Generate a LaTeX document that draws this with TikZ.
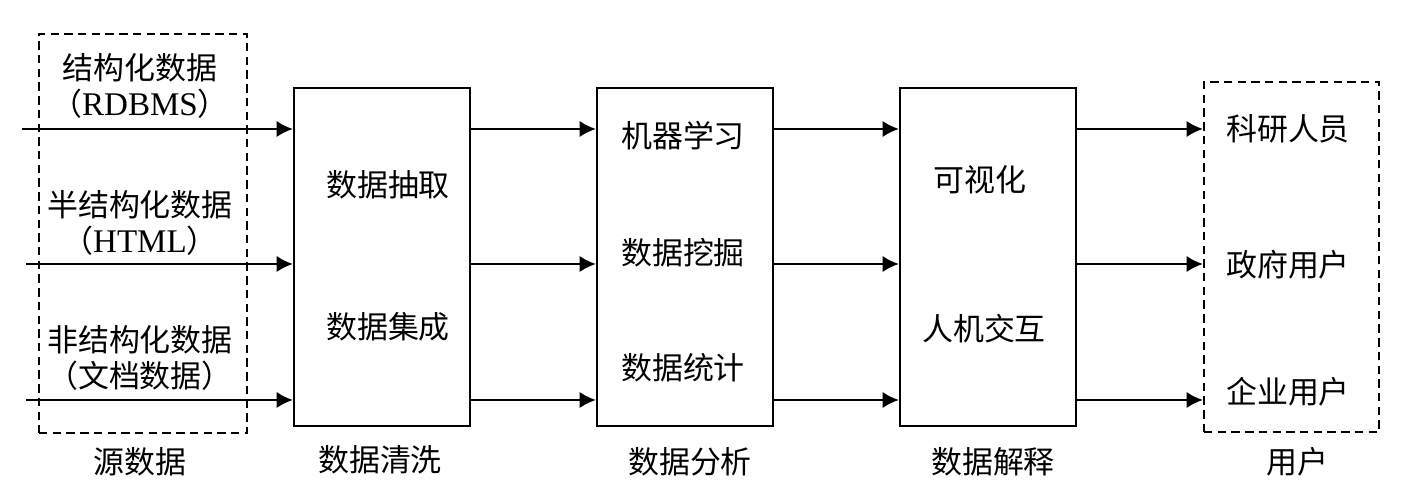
\documentclass[tikz,border=0pt]{standalone}
\usepackage{fontspec}
\setmainfont{Liberation Serif}
\newfontfamily\cjk{Noto Sans CJK SC}
\usetikzlibrary{arrows.meta}

\begin{document}
\begin{tikzpicture}[x=0.01cm,y=-0.01cm,
  stage/.style={draw,line width=0.6pt,minimum width=1.76cm,minimum height=3.38cm,inner sep=0pt},
  group/.style={draw,line width=0.6pt,dash pattern=on 2.4pt off 1.5pt,inner sep=0pt},
  lbl/.style={inner sep=0pt,font=\cjk\fontsize{8.8}{10.5}\selectfont},
  flow/.style={line width=0.6pt,-{Latex[length=4.6pt,width=4.6pt]}}]

  \useasboundingbox (0,0) rectangle (1414,498);

  \node[group,minimum width=2.08cm,minimum height=3.99cm] (src) at (143,233.5) {};
  \node[stage] (clean) at (382,257) {};
  \node[stage] (anal) at (685,257) {};
  \node[stage] (expl) at (988,257) {};
  \node[group,minimum width=1.75cm,minimum height=3.50cm] (user) at (1291.5,257) {};

  \node[lbl,align=center] (s1) at (140,86) {结构化数据\\（{\rmfamily\fontsize{9.4}{10.5}\selectfont RDBMS}）};
  \node[lbl,align=center] (s2) at (140,223) {半结构化数据\\（{\rmfamily\fontsize{9.4}{10.5}\selectfont HTML}）};
  \node[lbl,align=center] (s3) at (140,358) {非结构化数据\\（文档数据）};

  \node[lbl] (c1) at (388,185) {数据抽取};
  \node[lbl] (c2) at (388,327) {数据集成};

  \node[lbl] (a1) at (683,136) {机器学习};
  \node[lbl] (a2) at (683,253) {数据挖掘};
  \node[lbl] (a3) at (683,368) {数据统计};

  \node[lbl] (e1) at (980,180) {可视化};
  \node[lbl] (e2) at (984,329) {人机交互};

  \node[lbl] (u1) at (1288,129) {科研人员};
  \node[lbl] (u2) at (1288,265) {政府用户};
  \node[lbl] (u3) at (1288,392) {企业用户};

  \node[lbl] (t1) at (140,462) {源数据};
  \node[lbl] (t2) at (380,460) {数据清洗};
  \node[lbl] (t3) at (690,462) {数据分析};
  \node[lbl] (t4) at (993,462) {数据解释};
  \node[lbl] (t5) at (1297,462) {用户};

  \coordinate (in1) at (22,129);
  \coordinate (in2) at (26,264);
  \coordinate (in3) at (26,400);

  \draw[flow] (in1) -- (in1 -| clean.west);
  \draw[flow] (in2) -- (in2 -| clean.west);
  \draw[flow] (in3) -- (in3 -| clean.west);

  \draw[flow] (in1 -| clean.east) -- (in1 -| anal.west);
  \draw[flow] (in2 -| clean.east) -- (in2 -| anal.west);
  \draw[flow] (in3 -| clean.east) -- (in3 -| anal.west);

  \draw[flow] (in1 -| anal.east) -- (in1 -| expl.west);
  \draw[flow] (in2 -| anal.east) -- (in2 -| expl.west);
  \draw[flow] (in3 -| anal.east) -- (in3 -| expl.west);

  \draw[flow] (in1 -| expl.east) -- (in1 -| user.west);
  \draw[flow] (in2 -| expl.east) -- (in2 -| user.west);
  \draw[flow] (in3 -| expl.east) -- (in3 -| user.west);
\end{tikzpicture}
\end{document}
